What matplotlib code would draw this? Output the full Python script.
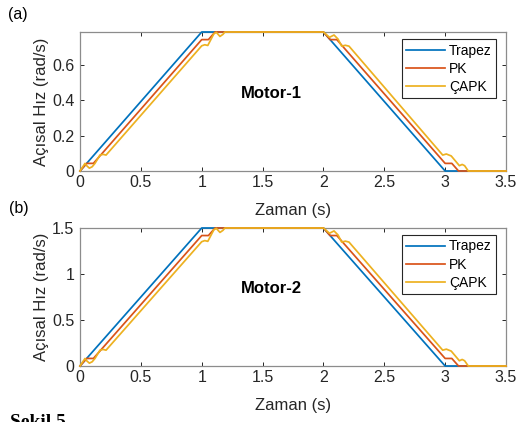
import matplotlib
matplotlib.use("Agg")
import matplotlib.pyplot as plt

plt.rcParams['font.family'] = ['Liberation Sans', 'DejaVu Sans']

# time axes (s)
t_trap = [0, 1.0, 2.0, 3.0, 3.5]
t_pk = [0, 0.055, 0.11, 1.0, 1.055, 1.11, 2.0, 2.055, 2.11, 3.0, 3.055, 3.11, 3.5]
t_capk = [0, 0.041, 0.055, 0.077, 0.10, 0.123, 0.164, 0.19, 0.214,
          1.0, 1.025, 1.05, 1.10, 1.12, 1.15, 1.175, 1.19,
          2.0, 2.05, 2.087, 2.12, 2.15, 2.18, 2.21,
          2.98, 3.01, 3.05, 3.117, 3.14, 3.16, 3.19, 3.5]

# Motor-1 angular speed (rad/s)
m1_trap = [0, 0.785, 0.785, 0, 0]
m1_pk = [0, 0.043, 0.043, 0.742, 0.742, 0.785, 0.785, 0.742, 0.742, 0.043, 0.043, 0, 0]
m1_capk = [0, 0.043, 0.03, 0.016, 0.024, 0.043, 0.09, 0.094, 0.09,
           0.707, 0.713, 0.709, 0.775, 0.783, 0.76, 0.772, 0.785,
           0.785, 0.755, 0.768, 0.745, 0.705, 0.71, 0.705,
           0.09, 0.096, 0.085, 0.03, 0.037, 0.03, 0, 0]

# Motor-2 angular speed (rad/s)
m2_trap = [0, 1.5, 1.5, 0, 0]
m2_pk = [0, 0.082, 0.082, 1.418, 1.418, 1.5, 1.5, 1.418, 1.418, 0.082, 0.082, 0, 0]
m2_capk = [0, 0.082, 0.057, 0.031, 0.046, 0.082, 0.172, 0.18, 0.172,
           1.351, 1.363, 1.355, 1.481, 1.496, 1.452, 1.475, 1.5,
           1.5, 1.443, 1.468, 1.424, 1.347, 1.357, 1.347,
           0.172, 0.183, 0.162, 0.057, 0.071, 0.057, 0, 0]

labels = ['Trapez', 'PK', 'ÇAPK']
colors = ['#0072BD', '#D95319', '#EDB120']
xticks = [0, 0.5, 1, 1.5, 2, 2.5, 3, 3.5]
xticklabels = ['0', '0.5', '1', '1.5', '2', '2.5', '3', '3.5']

W, H = 519, 422
fig = plt.figure(figsize=(W / 100, H / 100), dpi=100)


def make_axes(top, bottom):
    left, right = 80, 506
    return fig.add_axes([left / W, 1 - bottom / H, (right - left) / W, (bottom - top) / H])


def draw(ax, data, ymax, yticks, yticklabels, name):
    for (t, v), lab, c in zip(data, labels, colors):
        ax.plot(t, v, color=c, lw=1.25, label=lab, clip_on=False, zorder=3)
    ax.set_xlim(0, 3.5)
    ax.set_ylim(0, ymax)
    ax.set_xticks(xticks)
    ax.set_xticklabels(xticklabels)
    ax.set_yticks(yticks)
    ax.set_yticklabels(yticklabels)
    ax.tick_params(direction='in', length=3, width=0.7, colors='#262626',
                   labelsize=11.5, top=True, right=True)
    ax.tick_params(axis='x', pad=3)
    ax.tick_params(axis='y', pad=4)
    for s in ax.spines.values():
        s.set_color('#8c8c8c')
        s.set_linewidth(0.9)
    ax.set_xlabel('Zaman (s)', fontsize=12, color='#262626', labelpad=9)
    ax.set_ylabel('Açısal Hız (rad/s)', fontsize=12, color='#262626', labelpad=2)
    ax.text(1.57, ymax * 0.56, name, fontsize=12, fontweight='bold',
            ha='center', va='center')
    leg = ax.legend(loc='upper right', bbox_to_anchor=(0.976, 0.947), borderaxespad=0,
                    fontsize=10, handlelength=2.8, handletextpad=0.25,
                    labelspacing=0.3, borderpad=0.3, fancybox=False, framealpha=1)
    leg.get_frame().set_edgecolor('#262626')
    leg.get_frame().set_linewidth(0.8)


ax1 = make_axes(32, 171)
draw(ax1, [(t_trap, m1_trap), (t_pk, m1_pk), (t_capk, m1_capk)],
     0.785, [0, 0.2, 0.4, 0.6], ['0', '0.2', '0.4', '0.6'], 'Motor-1')

ax2 = make_axes(228, 366)
draw(ax2, [(t_trap, m2_trap), (t_pk, m2_pk), (t_capk, m2_capk)],
     1.5, [0, 0.5, 1, 1.5], ['0', '0.5', '1', '1.5'], 'Motor-2')

fig.text(18 / W, 1 - 14 / H, '(a)', fontsize=11.5, ha='center', va='center')
fig.text(19 / W, 1 - 208 / H, '(b)', fontsize=11.5, ha='center', va='center')

# caption of the page, cut at the bottom edge
fig.text(10 / W, 1 - 414 / H, 'Şekil 5.', fontsize=14, fontweight='bold',
         family=['Liberation Serif', 'DejaVu Serif'], ha='left', va='top')

fig.savefig('out.png', dpi=100)
